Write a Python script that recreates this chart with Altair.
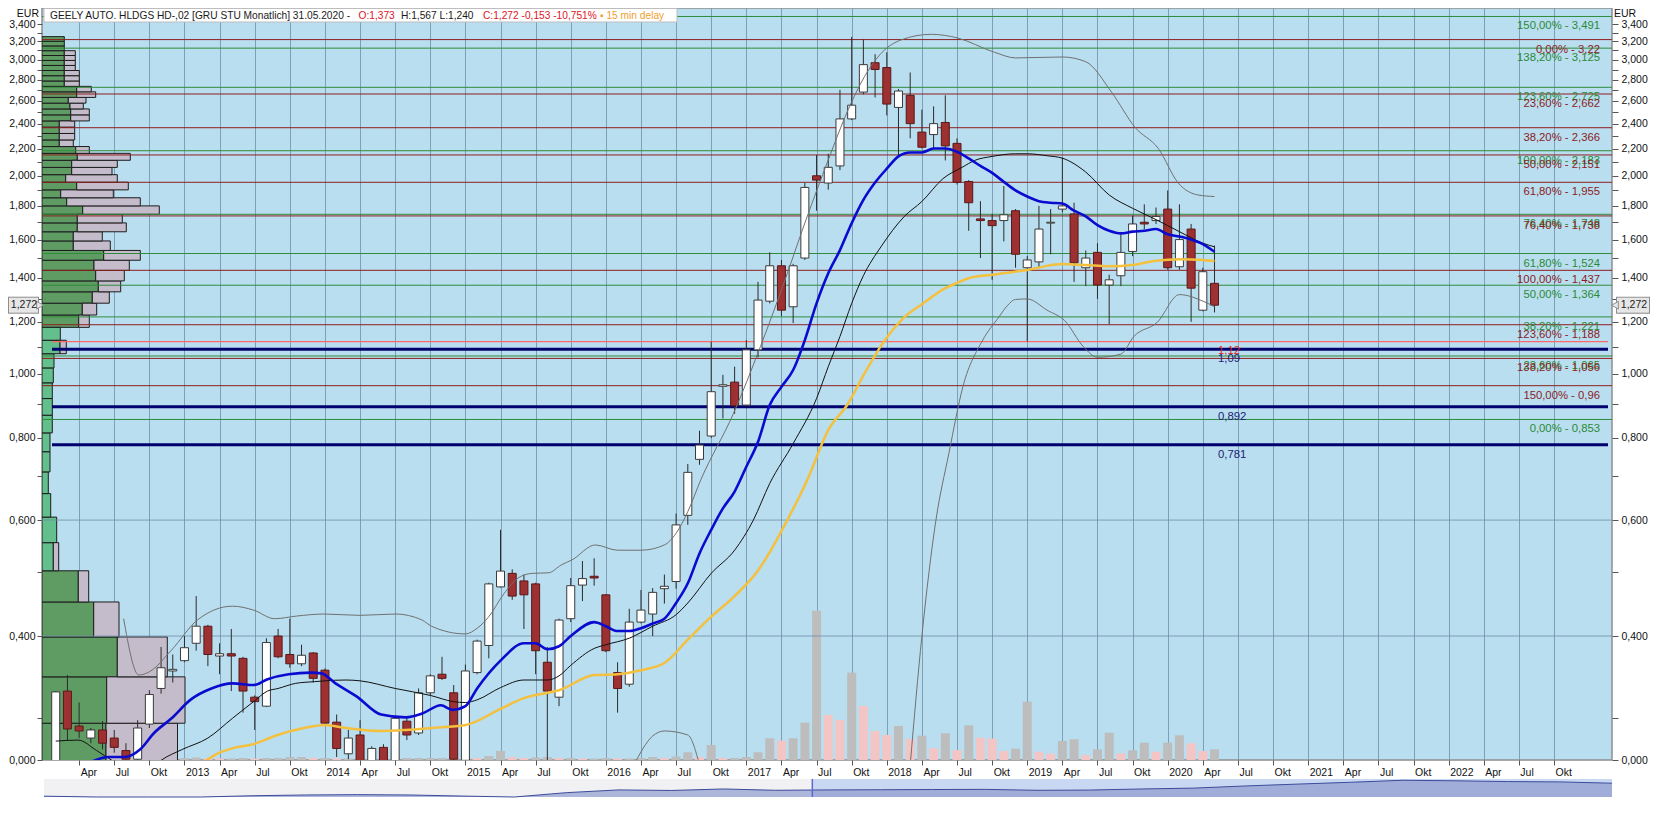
import json
import numpy as np
import pandas as pd
import altair as alt

FONT = "Liberation Sans"
W, H = 1570, 752
XMIN, XMAX = 0.255, 133.53
YMIN, YMAX = 0.2593, 3.596

# ---------------- data ----------------
# month index: 0 = Jan 2012, first candle = Feb 2012
FIRST_MONTH = 1
OPEN = [0.255, 0.330, 0.292, 0.280, 0.288, 0.280, 0.268, 0.260, 0.294, 0.333,
        0.354, 0.367, 0.390, 0.414, 0.373, 0.376, 0.370, 0.323, 0.313, 0.400,
        0.375, 0.363, 0.377, 0.355, 0.296, 0.265, 0.283, 0.258, 0.271, 0.258,
        0.297, 0.285, 0.328, 0.350, 0.328, 0.259, 0.352, 0.387, 0.475, 0.498,
        0.485, 0.480, 0.365, 0.323, 0.425, 0.478, 0.493, 0.462, 0.352, 0.338,
        0.420, 0.432, 0.472, 0.484, 0.610, 0.742, 0.805, 0.958, 0.972, 0.897,
        1.088, 1.290, 1.460, 1.265, 1.500, 2.000, 1.950, 2.070, 2.440, 2.680,
        2.970, 2.920, 2.540, 2.650, 2.330, 2.310, 2.410, 2.240, 1.960, 1.720,
        1.710, 1.710, 1.770, 1.450, 1.480, 1.695, 1.780, 1.750, 1.450, 1.530,
        1.365, 1.410, 1.535, 1.700, 1.710, 1.780, 1.455, 1.660, 1.250, 1.373]
HIGH = [0.330, 0.349, 0.317, 0.290, 0.297, 0.288, 0.275, 0.298, 0.331, 0.385,
        0.375, 0.400, 0.460, 0.416, 0.390, 0.410, 0.372, 0.325, 0.397, 0.410,
        0.425, 0.388, 0.378, 0.357, 0.304, 0.288, 0.298, 0.272, 0.274, 0.302,
        0.302, 0.333, 0.350, 0.372, 0.337, 0.362, 0.395, 0.482, 0.580, 0.505,
        0.496, 0.482, 0.385, 0.425, 0.490, 0.520, 0.525, 0.463, 0.365, 0.440,
        0.470, 0.473, 0.496, 0.614, 0.730, 0.820, 1.120, 0.997, 1.026, 1.126,
        1.380, 1.530, 1.490, 1.470, 1.950, 2.150, 2.160, 2.700, 3.250, 3.220,
        3.060, 3.080, 2.710, 2.870, 2.520, 2.550, 2.650, 2.280, 1.970, 1.830,
        1.750, 1.930, 1.780, 1.510, 1.800, 1.780, 2.130, 1.820, 1.540, 1.580,
        1.415, 1.630, 1.740, 1.810, 1.790, 1.900, 1.810, 1.690, 1.450, 1.567]
LOW = [0.250, 0.278, 0.280, 0.275, 0.269, 0.266, 0.255, 0.255, 0.290, 0.327,
       0.340, 0.365, 0.380, 0.360, 0.350, 0.330, 0.306, 0.288, 0.312, 0.370,
       0.358, 0.360, 0.340, 0.293, 0.262, 0.260, 0.255, 0.255, 0.255, 0.255,
       0.278, 0.283, 0.325, 0.343, 0.258, 0.256, 0.350, 0.370, 0.474, 0.454,
       0.410, 0.350, 0.255, 0.313, 0.420, 0.452, 0.477, 0.378, 0.306, 0.335,
       0.418, 0.400, 0.448, 0.472, 0.590, 0.728, 0.800, 0.856, 0.870, 0.893,
       1.060, 1.280, 1.225, 1.195, 1.490, 1.770, 1.905, 2.040, 2.430, 2.660,
       2.630, 2.470, 2.140, 2.280, 2.200, 2.200, 2.110, 1.940, 1.650, 1.500,
       1.390, 1.590, 1.450, 1.120, 1.450, 1.520, 1.760, 1.380, 1.360, 1.300,
       1.190, 1.360, 1.510, 1.660, 1.690, 1.440, 1.440, 1.200, 1.245, 1.240]
CLOSE = [0.329, 0.289, 0.287, 0.288, 0.275, 0.271, 0.260, 0.290, 0.326, 0.358,
         0.356, 0.384, 0.414, 0.375, 0.376, 0.373, 0.330, 0.318, 0.391, 0.372,
         0.363, 0.374, 0.345, 0.295, 0.270, 0.280, 0.258, 0.270, 0.258, 0.300,
         0.283, 0.328, 0.348, 0.345, 0.260, 0.354, 0.393, 0.480, 0.502, 0.460,
         0.462, 0.380, 0.330, 0.423, 0.477, 0.489, 0.490, 0.380, 0.333, 0.420,
         0.438, 0.466, 0.476, 0.590, 0.709, 0.780, 0.940, 0.963, 0.895, 1.088,
         1.295, 1.460, 1.250, 1.460, 1.920, 1.970, 2.060, 2.440, 2.560, 2.950,
         2.900, 2.570, 2.690, 2.400, 2.210, 2.400, 2.220, 1.955, 1.820, 1.710,
         1.680, 1.745, 1.520, 1.490, 1.660, 1.700, 1.800, 1.475, 1.500, 1.365,
         1.390, 1.530, 1.690, 1.690, 1.735, 1.450, 1.600, 1.350, 1.430, 1.272]
VOLUME = [2, 2, 1.5, 1.5, 1, 1, 1, 1.5, 2, 2.5,
          1.5, 2, 2.5, 2, 1.5, 1.5, 2, 1.5, 2, 2,
          3, 3, 2, 2, 1.5, 1.5, 1.5, 1.5, 1.5, 2,
          2, 2, 2, 2, 2.5, 2.5, 2, 4, 9, 3,
          2, 2.5, 3, 2, 2, 1.5, 1.5, 2, 1.5, 1.5,
          2, 3, 2, 3.5, 7.7, 3, 15, 2, 2, 3,
          7.7, 21.7, 19.3, 21.7, 37.3, 149.3, 45, 40, 87.3, 54,
          29, 25, 34, 21, 24.3, 11.7, 26.7, 10, 34.7, 22.3,
          21.5, 9, 11.3, 58.3, 8.3, 6.3, 19, 20.7, 5, 10.7,
          27.3, 6.7, 9.7, 17.3, 8.3, 17.3, 24.7, 16.7, 9, 10.7]

BLUE_LINE = [(3.5, 0.255), (5.5, 0.262), (6.9, 0.262), (8.2, 0.269), (9.4, 0.285), (10.9, 0.300),
             (12.5, 0.320), (14.3, 0.333), (16.1, 0.339), (17.9, 0.337), (19.1, 0.344), (20.9, 0.350),
             (22.8, 0.352), (23.7, 0.351), (24.9, 0.339), (26.7, 0.324), (28.8, 0.304), (30.9, 0.301),
             (32.3, 0.305), (33.9, 0.314), (34.9, 0.309), (36.0, 0.313), (37.0, 0.333), (39.0, 0.367),
             (41.0, 0.390), (42.0, 0.390), (43.0, 0.382), (44.0, 0.386), (45.0, 0.400), (47.0, 0.420),
             (48.0, 0.414), (49.0, 0.407), (50.0, 0.407), (51.0, 0.411), (52.0, 0.418), (53.0, 0.425),
             (54.0, 0.449), (55.0, 0.481), (56.0, 0.534), (57.0, 0.580), (58.0, 0.625), (59.0, 0.663),
             (60.0, 0.723), (61.0, 0.789), (62.0, 0.897), (63.0, 0.956), (64.0, 1.014), (65.0, 1.126),
             (66.0, 1.280), (67.0, 1.422), (68.0, 1.542), (69.0, 1.694), (70.0, 1.838), (71.0, 1.953),
             (72.0, 2.050), (73.0, 2.140), (74.0, 2.170), (75.0, 2.170), (76.0, 2.200), (77.0, 2.200),
             (78.0, 2.175), (79.0, 2.125), (80.0, 2.070), (81.0, 2.020), (82.0, 1.958), (83.0, 1.900),
             (84.0, 1.860), (85.0, 1.830), (86.0, 1.820), (87.0, 1.815), (88.0, 1.770), (89.0, 1.735),
             (90.0, 1.683), (91.0, 1.650), (92.0, 1.635), (93.0, 1.645), (94.0, 1.650), (95.0, 1.660),
             (96.0, 1.630), (97.0, 1.617), (98.0, 1.600), (99.0, 1.575), (100.0, 1.533)]
BLACK_LINE = [(1.0, 0.277), (2.9, 0.278), (4.5, 0.268), (5.8, 0.259), (7.5, 0.249), (9.5, 0.255),
              (10.0, 0.259), (11.8, 0.269), (14.0, 0.280), (16.1, 0.300), (17.9, 0.318), (19.1, 0.330),
              (20.0, 0.333), (21.5, 0.339), (23.1, 0.341), (24.0, 0.342), (25.8, 0.343), (27.0, 0.342),
              (30.0, 0.333), (33.0, 0.325), (35.0, 0.318), (36.0, 0.317), (37.0, 0.320), (39.0, 0.334),
              (41.0, 0.343), (43.0, 0.343), (44.0, 0.348), (45.0, 0.361), (47.0, 0.383), (48.0, 0.388),
              (50.0, 0.397), (52.0, 0.414), (54.0, 0.431), (55.0, 0.449), (57.0, 0.498), (59.0, 0.540),
              (60.6, 0.600), (62.0, 0.682), (64.0, 0.784), (66.0, 0.918), (67.0, 1.026), (68.0, 1.140),
              (69.0, 1.280), (70.0, 1.410), (71.5, 1.560), (73.5, 1.735), (75.0, 1.828), (76.8, 1.980),
              (78.5, 2.063), (79.5, 2.110), (81.0, 2.140), (83.0, 2.160), (84.0, 2.160), (85.7, 2.145),
              (87.0, 2.127), (89.0, 2.026), (91.0, 1.870), (93.0, 1.785), (95.0, 1.716), (97.0, 1.645),
              (99.0, 1.580), (100.0, 1.560)]
ORANGE_LINE = [(13.3, 0.255), (15.0, 0.266), (16.4, 0.271), (17.9, 0.274), (19.7, 0.282), (22.2, 0.290),
               (24.0, 0.293), (25.8, 0.290), (28.8, 0.287), (30.9, 0.288), (33.1, 0.290), (36.0, 0.293),
               (39.0, 0.310), (41.0, 0.322), (43.0, 0.328), (44.0, 0.331), (47.0, 0.349), (49.0, 0.350),
               (51.0, 0.355), (53.0, 0.364), (55.0, 0.395), (57.0, 0.428), (59.0, 0.460), (61.0, 0.503),
               (62.6, 0.560), (63.5, 0.600), (64.6, 0.655), (65.2, 0.690), (67.0, 0.822), (68.7, 0.902),
               (70.1, 1.002), (71.6, 1.110), (73.4, 1.215), (75.1, 1.280), (77.0, 1.350), (78.0, 1.375),
               (79.0, 1.398), (81.0, 1.415), (84.0, 1.439), (87.0, 1.469), (89.0, 1.464), (91.0, 1.458),
               (93.0, 1.464), (95.0, 1.486), (97.0, 1.494), (99.0, 1.490), (100.0, 1.484)]
BAND_UPPER = [(6.8, 0.425), (8.1, 0.349), (9.0, 0.353), (10.9, 0.381), (13.1, 0.423), (16.1, 0.444),
              (17.9, 0.438), (19.7, 0.425), (21.6, 0.429), (23.9, 0.432), (27.0, 0.430), (30.0, 0.432),
              (32.3, 0.423), (33.1, 0.414), (36.0, 0.403), (37.0, 0.411), (38.0, 0.428), (39.3, 0.464),
              (40.5, 0.490), (41.7, 0.498), (43.1, 0.499), (44.2, 0.513), (45.1, 0.522), (47.1, 0.550),
              (49.0, 0.540), (51.0, 0.540), (53.0, 0.550), (54.0, 0.573), (55.0, 0.618), (56.1, 0.690),
              (58.9, 0.871), (61.2, 1.100), (63.1, 1.357), (65.1, 1.715), (67.0, 2.114), (68.7, 2.520),
              (70.1, 2.830), (71.6, 3.080), (73.2, 3.215), (75.8, 3.280), (78.0, 3.240), (81.2, 3.080),
              (83.0, 3.020), (87.0, 3.030), (89.0, 2.980), (91.2, 2.680), (93.2, 2.370), (95.2, 2.200),
              (96.9, 1.950), (98.6, 1.870), (100.0, 1.860)]
BAND_LOWER = [(50.4, 0.255, 1), (52.0, 0.282, 1), (53.0, 0.287, 1), (55.0, 0.283, 1), (56.0, 0.255, 1),
              (74.0, 0.255, 2), (75.0, 0.400, 2), (76.2, 0.600, 2), (77.3, 0.757, 2), (78.5, 0.956, 2),
              (80.2, 1.126, 2), (81.6, 1.222, 2), (82.3, 1.270, 2), (83.0, 1.298, 2), (84.0, 1.300, 2),
              (85.7, 1.250, 2), (87.2, 1.205, 2), (88.8, 1.100, 2), (90.0, 1.060, 2), (92.0, 1.072, 2),
              (93.1, 1.140, 2), (95.1, 1.198, 2), (97.0, 1.320, 2), (99.1, 1.288, 2), (100.0, 1.265, 2)]

FIB_GREEN = [3.491, 3.125, 2.725, 2.183, 1.748, 1.524, 1.364, 1.221, 1.065, 0.853]
FIB_GREEN_TEXT = ["150,00% - 3,491", "138,20% - 3,125", "123,60% - 2,725", "100,00% - 2,183",
                  "76,40% - 1,748", "61,80% - 1,524", "50,00% - 1,364", "38,20% - 1,221",
                  "23,60% - 1,065", "0,00% - 0,853"]
FIB_RED = [3.22, 2.662, 2.366, 2.151, 1.955, 1.738, 1.437, 1.188, 1.056, 0.96]
FIB_RED_TEXT = ["0,00% - 3,22", "23,60% - 2,662", "38,20% - 2,366", "50,00% - 2,151",
                "61,80% - 1,955", "76,40% - 1,738", "100,00% - 1,437", "123,60% - 1,188",
                "138,20% - 1,056", "150,00% - 0,96"]
NAVY_LEVELS = [1.09, 0.892, 0.781]
NAVY_TEXT = ["1,09", "0,892", "0,781"]
PINK_LEVELS = [1.12]
PINK_TEXT = ["1,12"]

PROFILE_LOW, PROFILE_STEP = 0.243, 0.0519
PROFILE_GREEN = [64, 64.7, 75.3, 51.7, 36.3, 11.3, 14.7, 8.7, 6.3, 8, 8, 10.3, 10.3, 10.3, 11.3,
                 12, 18, 18.3, 36.7, 40.3, 50.3, 56.3, 53.7, 52, 61.7, 31.3, 31.3, 35.3, 35.3,
                 40.7, 24.7, 18.7, 34.7, 23.7, 29.7, 29.7, 35.3, 33.7, 17.3, 17.3, 17.3, 17.3,
                 28.7, 28.7, 28, 26.3, 34.7, 34.7, 22.3, 22.3, 22.3, 22.3, 22.3, 22.3, 22.3,
                 22.3, 22.3, 22.3]
PROFILE_GRAY = [71.5, 78.3, 50, 25.3, 10.4, 5.4, 0, 0, 0, 0, 0, 0, 0, 0, 0,
                0, 6.3, 0, 10.6, 14.4, 17, 22.4, 28.6, 35.3, 36.6, 37, 29, 49, 45,
                76.6, 73.6, 52.6, 51.6, 51.6, 40.3, 45.6, 53, 13.6, 14, 15.4, 15.4, 15.4,
                18.6, 18.6, 13.3, 17.7, 19, 14.6, 15, 15, 15, 11, 11, 11, 11,
                0, 0, 0]

NAV = [1.5, 0, 0, 0, 2.3, 3.7, 4.3, 3.7, 1.7, 0, 8, 13, 12, 14.7, 12.3, 13, 13.3, 13.7, 14,
       12.3, 12.7, 14.7, 16.3, 20.3, 23.7, 27, 30.7, 29.7, 28.3, 27.7, 25.3]
NAV_SELECT = 14.7

MONTH_TAGS = {3: "Apr", 6: "Jul", 9: "Okt"}
TICK_M = list(range(3, 130, 3))
TICK_LABELS = [str(2012 + m // 12) if m % 12 == 0 else MONTH_TAGS[m % 12] for m in TICK_M]
Y_MAJOR = [0.4, 0.6, 0.8, 1.0, 1.2, 1.4, 1.6, 1.8, 2.0, 2.2, 2.4, 2.6, 2.8, 3.0, 3.2, 3.4]
Y_MINOR = [0.3, 0.5, 0.7, 0.9, 1.1, 1.3, 1.5, 1.7, 1.9, 2.1, 2.3, 2.5, 2.7, 2.9, 3.1, 3.3]
GRID_Y = [0.4, 0.6]

TITLE_TEXT = ["GEELY AUTO. HLDGS HD-,02 [GRU STU Monatlich] 31.05.2020 - ", "O:1,373",
              "H:1,567 L:1,240", "C:1,272 -0,153 -10,751%", "\u25aa 15 min delay"]
TITLE_COLORS = ["#1a1a1a", "#e0141e", "#1a1a1a", "#e0141e", "#f0a030"]

# ---------------- scales / axes ----------------
XS = alt.Scale(domain=[XMIN, XMAX], nice=False, zero=False)
YS = alt.Scale(type="log", domain=[YMIN, YMAX], nice=False)

x_label_expr = f"{json.dumps(TICK_LABELS)}[indexof({json.dumps(TICK_M)}, datum.value)]"
XAX = alt.Axis(values=TICK_M, labelExpr=x_label_expr, title=None, grid=True,
               gridColor="#6f8ea6", gridOpacity=0.8, gridWidth=1, domain=False,
               tickSize=5, tickColor="#555555", labelAlign="left", labelBaseline="top",
               labelPadding=2, labelOffset=1, labelFontSize=10.5, labelColor="#111111",
               labelOverlap=False, labelBound=False, labelFlush=False)

Y_TICKS = [YMIN] + sorted(Y_MAJOR + Y_MINOR)
y_label_expr = ("datum.value < 0.27 ? '0,000' : (indexof(%s, datum.value) >= 0 ? "
                "replace(format(datum.value, '.3f'), '.', ',') : '')") % json.dumps(Y_MAJOR)


def y_axis(orient, tick, pad):
    return alt.Axis(values=Y_TICKS, labelExpr=y_label_expr, title=None, grid=False, domain=False,
                    orient=orient, tickSize=tick, tickColor="#555555", labelPadding=pad,
                    labelFontSize=10.5, labelColor="#111111", labelOverlap=False,
                    labelBound=False, labelFlush=False)


YAX = y_axis("left", 5, 2)
YAX_R = y_axis("right", 6, 3)


def Xm(field="m"):
    return alt.X(f"{field}:Q", scale=XS, axis=XAX, title=None)


def Yp(field):
    return alt.Y(f"{field}:Q", scale=YS, axis=YAX, title=None)


one = pd.DataFrame({"k": [0]})

# ---------------- volume (own y scale, drawn at the bottom) ----------------
vdf = pd.DataFrame({"m": list(range(FIRST_MONTH, FIRST_MONTH + len(VOLUME))), "vol": VOLUME})
vdf["rise"] = (vdf["vol"].diff().fillna(1) >= 0)
VS = alt.Scale(domain=[0, 150], range=[H, H - 150])
vol_more = alt.Chart(vdf).transform_filter("datum.rise").mark_bar(size=9, color="#bdbdbd", clip=True).encode(
    x=alt.X("m:Q", scale=XS, axis=None), y=alt.Y("vol:Q", scale=VS, axis=None))
vol_less = alt.Chart(vdf).transform_filter("!datum.rise").mark_bar(size=9, color="#f3c5c5", clip=True).encode(
    x=alt.X("m:Q", scale=XS, axis=None), y=alt.Y("vol:Q", scale=VS, axis=None))
volume_group = alt.layer(vol_more, vol_less)

# ---------------- volume profile (left) ----------------
k = np.arange(len(PROFILE_GREEN))
pdf = pd.DataFrame({
    "lo": PROFILE_LOW + PROFILE_STEP * k,
    "hi": PROFILE_LOW + PROFILE_STEP * (k + 1),
    "base": 0.0,
    "green": PROFILE_GREEN,
    "total": np.array(PROFILE_GREEN) + np.array(PROFILE_GRAY),
})
mid = (pdf["lo"] + pdf["hi"]) / 2
pdf["teal"] = (mid > 0.5) & (mid < 1.18)
PS = alt.Scale(domain=[0, W], range=[0, W])
prof_y = alt.Y("lo:Q", scale=YS, axis=None)
prof_green = alt.Chart(pdf).transform_filter("!datum.teal").mark_rect(
    fill="#5f9c64", stroke="#1c1c1c", strokeWidth=1, clip=True).encode(
    x=alt.X("base:Q", scale=PS, axis=None), x2="green:Q", y=prof_y, y2="hi:Q")
prof_teal = alt.Chart(pdf).transform_filter("datum.teal").mark_rect(
    fill="#63bf8c", stroke="#1c1c1c", strokeWidth=1, clip=True).encode(
    x=alt.X("base:Q", scale=PS, axis=None), x2="green:Q", y=prof_y, y2="hi:Q")
prof_gray = alt.Chart(pdf).transform_filter("datum.total > datum.green").mark_rect(
    fill="#c4bccb", stroke="#1c1c1c", strokeWidth=1, clip=True).encode(
    x=alt.X("green:Q", scale=PS, axis=None), x2="total:Q", y=prof_y, y2="hi:Q")
profile_group = alt.layer(prof_green, prof_teal, prof_gray)

# ---------------- price group ----------------
months = list(range(FIRST_MONTH, FIRST_MONTH + len(OPEN)))
cdf = pd.DataFrame({"m": months, "open": OPEN, "high": HIGH, "low": LOW, "close": CLOSE})

gdf = pd.DataFrame({"p": GRID_Y})
hgrid = alt.Chart(gdf).mark_rule(color="#6f8ea6", opacity=0.8, strokeWidth=1).encode(
    y=Yp("p"), x=alt.value(0), x2=alt.value(W))

fg = pd.DataFrame({"p": FIB_GREEN, "t": FIB_GREEN_TEXT})
fr = pd.DataFrame({"p": FIB_RED, "t": FIB_RED_TEXT})
fib_g = alt.Chart(fg).mark_rule(color="#2f8c3a", strokeWidth=1).encode(y=Yp("p"), x=alt.value(0), x2=alt.value(W))
fib_r = alt.Chart(fr).mark_rule(color="#8e1f1f", strokeWidth=1).encode(y=Yp("p"), x=alt.value(0), x2=alt.value(W))

ndf = pd.DataFrame({"p": NAVY_LEVELS, "t": NAVY_TEXT})
kdf = pd.DataFrame({"p": PINK_LEVELS, "t": PINK_TEXT})
pink_rule = alt.Chart(kdf).mark_rule(color="#ff6868", strokeWidth=1.3).encode(
    y=Yp("p"), x=alt.value(10), x2=alt.value(1566))
navy_rule = alt.Chart(ndf).mark_rule(color="#00006e", strokeWidth=3).encode(
    y=Yp("p"), x=alt.value(10), x2=alt.value(1566))

wick = alt.Chart(cdf).mark_rule(color="#2b2b2b", strokeWidth=1, clip=True).encode(
    x=Xm(), y=Yp("low"), y2="high:Q")
body_up = alt.Chart(cdf).transform_filter("datum.close >= datum.open").mark_bar(
    size=8, fill="#ffffff", stroke="#3a3a3a", strokeWidth=1, clip=True).encode(
    x=Xm(), y=Yp("open"), y2="close:Q")
body_dn = alt.Chart(cdf).transform_filter("datum.close < datum.open").mark_bar(
    size=8, fill="#9d3030", stroke="#5b1818", strokeWidth=1, clip=True).encode(
    x=Xm(), y=Yp("open"), y2="close:Q")


def line_layer(pairs, color, width):
    df = pd.DataFrame(pairs, columns=["m", "v"])
    return alt.Chart(df).mark_line(color=color, strokeWidth=width, clip=True,
                                   interpolate="monotone").encode(x=Xm(), y=Yp("v"))


upper = line_layer(BAND_UPPER, "#707070", 1)
ldf = pd.DataFrame(BAND_LOWER, columns=["m", "v", "seg"])
lower = alt.Chart(ldf).mark_line(color="#707070", strokeWidth=1, clip=True, interpolate="monotone").encode(
    x=Xm(), y=Yp("v"), detail="seg:N")
black = line_layer(BLACK_LINE, "#111111", 1)
orange = line_layer(ORANGE_LINE, "#f4c03e", 2.5)
blue = line_layer(BLUE_LINE, "#0a0ad0", 2.6)

fib_g_txt = alt.Chart(fg).mark_text(align="right", baseline="middle", dy=10, fontSize=11.3,
                                    color="#2b8a34").encode(x=alt.value(1558), y=Yp("p"), text="t:N")
fib_r_txt = alt.Chart(fr).mark_text(align="right", baseline="middle", dy=10, fontSize=11.3,
                                    color="#8b1c1c").encode(x=alt.value(1558), y=Yp("p"), text="t:N")
navy_txt = alt.Chart(ndf).mark_text(align="left", baseline="middle", dy=10, fontSize=11.3,
                                    color="#1c1c78").encode(x=alt.value(1176), y=Yp("p"), text="t:N")
pink_txt = alt.Chart(kdf).mark_text(align="left", baseline="middle", dy=9, fontSize=11.3,
                                    color="#e0262a").encode(x=alt.value(1176), y=Yp("p"), text="t:N")

title_box = alt.Chart(one).mark_rect(fill="#ffffff", stroke="#bdbdbd", strokeWidth=1).encode(
    x=alt.value(2), x2=alt.value(635), y=alt.value(0.5), y2=alt.value(14))
title_x = [8, 316.5, 359, 441, 558]
title_layers = [
    alt.Chart(one).mark_text(align="left", baseline="middle", fontSize=10.2, color=c).encode(
        x=alt.value(px), y=alt.value(7.5), text=alt.value(t))
    for t, c, px in zip(TITLE_TEXT, TITLE_COLORS, title_x)
]

eur_l = alt.Chart(one).mark_text(align="right", baseline="top", fontSize=10.5, color="#111111", clip=False).encode(
    x=alt.value(-3), y=alt.value(1), text=alt.value("EUR"))
eur_r = alt.Chart(one).mark_text(align="left", baseline="top", fontSize=10.5, color="#111111", clip=False).encode(
    x=alt.value(W + 2), y=alt.value(1), text=alt.value("EUR"))

last = pd.DataFrame({"p": [CLOSE[-1]], "t": [f"{CLOSE[-1]:.3f}".replace(".", ",")]})
mk_l_out = alt.Chart(last).mark_rule(color="#8e8e8e", strokeWidth=17).encode(
    y=Yp("p"), x=alt.value(-34), x2=alt.value(-3))
mk_l_in = alt.Chart(last).mark_rule(color="#e6e6e6", strokeWidth=15).encode(
    y=Yp("p"), x=alt.value(-33), x2=alt.value(-4))
mk_l_tri = alt.Chart(last).mark_point(shape="triangle-right", filled=True, size=60, color="#e6e6e6",
                                      stroke="#8e8e8e", strokeWidth=1, opacity=1).encode(
    y=Yp("p"), x=alt.value(-2))
mk_l_txt = alt.Chart(last).mark_text(align="center", baseline="middle", fontSize=10.5, color="#222222").encode(
    y=Yp("p"), x=alt.value(-18), text="t:N")
mk_r_out = alt.Chart(last).mark_rule(color="#8e8e8e", strokeWidth=17).encode(
    y=Yp("p"), x=alt.value(W + 4), x2=alt.value(W + 38))
mk_r_in = alt.Chart(last).mark_rule(color="#e6e6e6", strokeWidth=15).encode(
    y=Yp("p"), x=alt.value(W + 5), x2=alt.value(W + 37))
mk_r_tri = alt.Chart(last).mark_point(shape="triangle-left", filled=True, size=60, color="#e6e6e6",
                                      stroke="#8e8e8e", strokeWidth=1, opacity=1).encode(
    y=Yp("p"), x=alt.value(W + 3))
mk_r_txt = alt.Chart(last).mark_text(align="center", baseline="middle", fontSize=10.5, color="#222222").encode(
    y=Yp("p"), x=alt.value(W + 22), text="t:N")

price_group = alt.layer(
    hgrid, fib_g, fib_r, pink_rule, navy_rule,
    wick, body_up, body_dn,
    upper, lower, black, orange, blue,
    fib_g_txt, fib_r_txt, navy_txt, pink_txt,
    title_box, *title_layers, eur_l, eur_r,
    mk_l_out, mk_l_in, mk_l_tri, mk_l_txt, mk_r_out, mk_r_in, mk_r_tri, mk_r_txt,
)

# right axis (same log scale)
right_axis = alt.Chart(pd.DataFrame({"p": [1.0]})).mark_point(opacity=0).encode(
    y=alt.Y("p:Q", scale=YS, axis=YAX_R, title=None))

# ---------------- navigator strip below the axis ----------------
NX = alt.Scale(domain=[0, len(NAV) - 1], range=[2, W])
NY = alt.Scale(domain=[0, 33], range=[789, 771])
nav_df = pd.DataFrame({"i": list(range(len(NAV))), "v": NAV})
nav_left = alt.Chart(pd.DataFrame({"a": [0], "b": [NAV_SELECT]})).mark_rect(color="#f1f1f3", clip=False).encode(
    x=alt.X("a:Q", scale=NX, axis=None), x2="b:Q", y=alt.value(771), y2=alt.value(789))
nav_right = alt.Chart(pd.DataFrame({"a": [NAV_SELECT], "b": [len(NAV) - 1]})).mark_rect(color="#c9d8f2", clip=False).encode(
    x=alt.X("a:Q", scale=NX, axis=None), x2="b:Q", y=alt.value(771), y2=alt.value(789))
nav_area = alt.Chart(nav_df).mark_area(color="#8f9bcf", clip=False,
                                       line={"color": "#3d4b9b", "strokeWidth": 1}).encode(
    x=alt.X("i:Q", scale=NX, axis=None), y=alt.Y("v:Q", scale=NY, axis=None))
nav_sel = alt.Chart(pd.DataFrame({"a": [NAV_SELECT]})).mark_rule(color="#5a6ad0", strokeWidth=1.5, clip=False).encode(
    x=alt.X("a:Q", scale=NX, axis=None), y=alt.value(771), y2=alt.value(789))
nav_group = alt.layer(nav_left, nav_right, nav_area, nav_sel)

chart = alt.layer(volume_group, profile_group, price_group, right_axis, nav_group).resolve_scale(
    x="independent", y="independent"
).properties(
    width=W, height=H,
    padding={"left": 34, "top": 0, "right": 38, "bottom": 38},
    autosize=alt.AutoSizeParams(type="none"),
    background="#ffffff",
).configure_view(
    fill="#b9def0", stroke="#8f8f8f", strokeWidth=1.5
).configure_axis(
    labelFont=FONT
).configure_text(
    font=FONT
)

chart.save("out.html", embed_options={"renderer": "svg", "actions": False})
